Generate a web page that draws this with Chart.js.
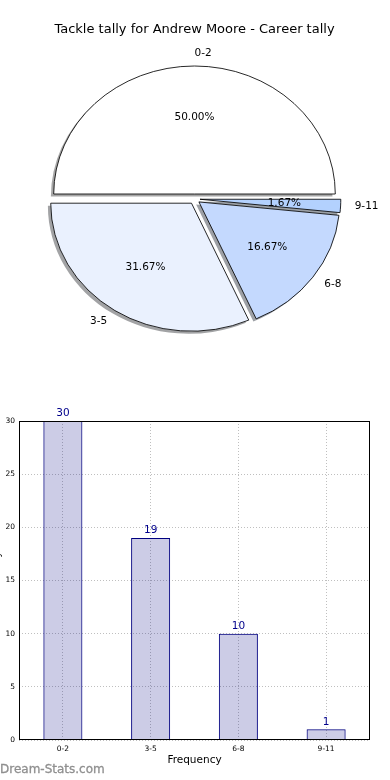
<!DOCTYPE html>
<html>
<head>
<meta charset="utf-8">
<script src="https://cdn.jsdelivr.net/npm/chart.js@4/dist/chart.umd.min.js"></script>
<style>
  html, body { margin: 0; padding: 0; width: 390px; height: 780px; overflow: hidden; background: #fff; position: relative; }
  #pie { position: absolute; left: 0; top: 0; }
  #bar { position: absolute; left: -10px; top: 380px; }
  #wm { position: absolute; left: 0; top: 762px; font: 12px "DejaVu Sans", sans-serif; color: #8f8f8f; white-space: nowrap; -webkit-text-stroke: 0.3px #8f8f8f; }
</style>
</head>
<body>
<canvas id="pie" width="390" height="380"></canvas>
<canvas id="bar" width="400" height="400"></canvas>
<div id="wm">Dream-Stats.com</div>
<script>
// ---- data ----
const titleText = 'Tackle tally for Andrew Moore - Career tally';
const categories = ['0-2', '3-5', '6-8', '9-11'];
const counts = [30, 19, 10, 1];
const yTicks = [0, 5, 10, 15, 20, 25, 30];
const xTitle = 'Frequency';
const yTitle = 'Tackle tally';

// ---- styles ----
const sliceColors = ['#ffffff', '#eaf1fe', '#c4d9fe', '#b3d1fe'];
Chart.defaults.font.family = '"DejaVu Sans", sans-serif';
Chart.defaults.color = '#000';

const total = counts.reduce((a, b) => a + b, 0);
const pcts = counts.map(v => (100 * v / total).toFixed(2) + '%');

// pie is drawn clockwise from east in Chart.js, matplotlib goes counter-clockwise
const order = categories.map((_, i) => i).reverse();
const pieLabels = order.map(i => categories[i]);
const pieValues = order.map(i => counts[i]);
const piePcts = order.map(i => pcts[i]);
const pieColors = order.map(i => sliceColors[i]);

const SX = 1.1;       // horizontal stretch of the pie
const EXPLODE = 5;    // px
const SHADOW = 0.02;  // fraction of radius

function shadowColor(hex) {
  const r = parseInt(hex.slice(1, 3), 16), g = parseInt(hex.slice(3, 5), 16), b = parseInt(hex.slice(5, 7), 16);
  return `rgba(${Math.round(r * 0.3)},${Math.round(g * 0.3)},${Math.round(b * 0.3)},0.5)`;
}

const piePlugin = {
  id: 'piePlugin',
  beforeDatasetsDraw(chart) {
    const ctx = chart.ctx;
    const arcs = chart.getDatasetMeta(0).data;
    const cx = arcs[0].x, cy = arcs[0].y;
    ctx.save();
    ctx.translate(cx, cy); ctx.scale(SX, 1); ctx.translate(-cx, -cy);
    arcs.forEach((arc, i) => {
      const mid = (arc.startAngle + arc.endAngle) / 2;
      const ex = Math.cos(mid) * EXPLODE, ey = Math.sin(mid) * EXPLODE;
      const R = arc.outerRadius;
      ctx.save();
      ctx.translate(ex - SHADOW * R, ey + SHADOW * R);
      const ghost = Object.create(arc);
      const sc = shadowColor(pieColors[i]);
      ghost.options = Object.assign({}, arc.options, { backgroundColor: sc, borderColor: sc, borderWidth: 0 });
      ghost.draw(ctx);
      ctx.restore();
      ctx.save();
      ctx.translate(ex, ey);
      arc.draw(ctx);
      ctx.restore();
    });
    ctx.restore();
    return false;
  },
  afterDraw(chart) {
    const ctx = chart.ctx;
    const arcs = chart.getDatasetMeta(0).data;
    ctx.save();
    ctx.font = '10.5px "DejaVu Sans", sans-serif';
    ctx.fillStyle = '#000';
    ctx.textBaseline = 'middle';
    arcs.forEach((arc, i) => {
      const mid = (arc.startAngle + arc.endAngle) / 2;
      const c = Math.cos(mid), s = Math.sin(mid);
      const R = arc.outerRadius;
      let d = EXPLODE + 1.1 * R;
      ctx.textAlign = c > 1e-9 ? 'left' : 'right';
      if (Math.abs(c) < 1e-9) ctx.textAlign = 'left';
      ctx.fillText(pieLabels[i], arc.x + SX * c * d, arc.y + s * d);
      d = EXPLODE + 0.6 * R;
      ctx.textAlign = 'center';
      ctx.fillText(piePcts[i], arc.x + SX * c * d, arc.y + s * d);
    });
    ctx.restore();
  }
};

new Chart(document.getElementById('pie'), {
  type: 'pie',
  data: {
    labels: pieLabels,
    datasets: [{
      data: pieValues,
      backgroundColor: pieColors,
      borderColor: '#000',
      borderWidth: 0.8,
      borderJoinStyle: 'miter',
      radius: 128
    }]
  },
  options: {
    responsive: false,
    devicePixelRatio: 1,
    animation: false,
    events: [],
    rotation: 90,
    layout: { padding: { top: 0, right: 1, left: 0, bottom: 29.6 } },
    plugins: {
      legend: { display: false },
      tooltip: { enabled: false },
      title: {
        display: true,
        text: titleText,
        font: { size: 13, weight: 'normal' },
        color: '#000',
        padding: { top: 22, bottom: 10 }
      }
    }
  },
  plugins: [piePlugin]
});

// ---- bar chart ----
const barPlugin = {
  id: 'barPlugin',
  afterDatasetsDraw(chart) {
    const ctx = chart.ctx;
    const a = chart.chartArea;
    ctx.save();
    ctx.strokeStyle = '#000';
    ctx.lineWidth = 1;
    ctx.strokeRect(Math.round(a.left) + 0.5, Math.round(a.top) + 0.5, Math.round(a.right - a.left) - 1, Math.round(a.bottom - a.top) - 1);
    const bars = chart.getDatasetMeta(0).data;
    ctx.font = '10.5px "DejaVu Sans", sans-serif';
    ctx.fillStyle = '#00008b';
    ctx.textAlign = 'center';
    ctx.textBaseline = 'bottom';
    bars.forEach((b, i) => {
      ctx.fillText(String(counts[i]), b.x, b.y - 2);
    });
    ctx.restore();
  }
};

new Chart(document.getElementById('bar'), {
  type: 'bar',
  data: {
    labels: categories,
    datasets: [{
      data: counts,
      backgroundColor: 'rgba(0,0,128,0.2)',
      borderColor: '#000080',
      borderWidth: 1,
      barPercentage: 0.445,
      categoryPercentage: 1
    }]
  },
  options: {
    responsive: false,
    devicePixelRatio: 1,
    animation: false,
    events: [],
    layout: { padding: { top: 41, right: 20, left: 0, bottom: 0 } },
    plugins: { legend: { display: false }, tooltip: { enabled: false }, title: { display: false } },
    scales: {
      x: {
        grid: { offset: false, color: 'rgba(0,0,0,0.25)', drawTicks: false },
        border: { display: false, dash: [1, 2] },
        ticks: { font: { size: 7.5 }, padding: 5, color: '#000', maxRotation: 0 },
        title: { display: true, text: xTitle, font: { size: 10.5 }, color: '#000', padding: { top: 0, bottom: 13.7 } },
        afterFit(s) { s.height = 40; }
      },
      y: {
        min: 0, max: 30,
        afterBuildTicks(s) { s.ticks = yTicks.map(v => ({ value: v })); },
        grid: { color: 'rgba(0,0,0,0.25)', drawTicks: false },
        border: { display: false, dash: [1, 2] },
        ticks: { font: { size: 7.5 }, padding: 4, color: '#000' },
        title: { display: true, text: yTitle, font: { size: 10.5 }, color: '#000', padding: { top: 1, bottom: 0 } },
        afterFit(s) { s.width = 29; }
      }
    }
  },
  plugins: [barPlugin]
});
</script>
</body>
</html>
